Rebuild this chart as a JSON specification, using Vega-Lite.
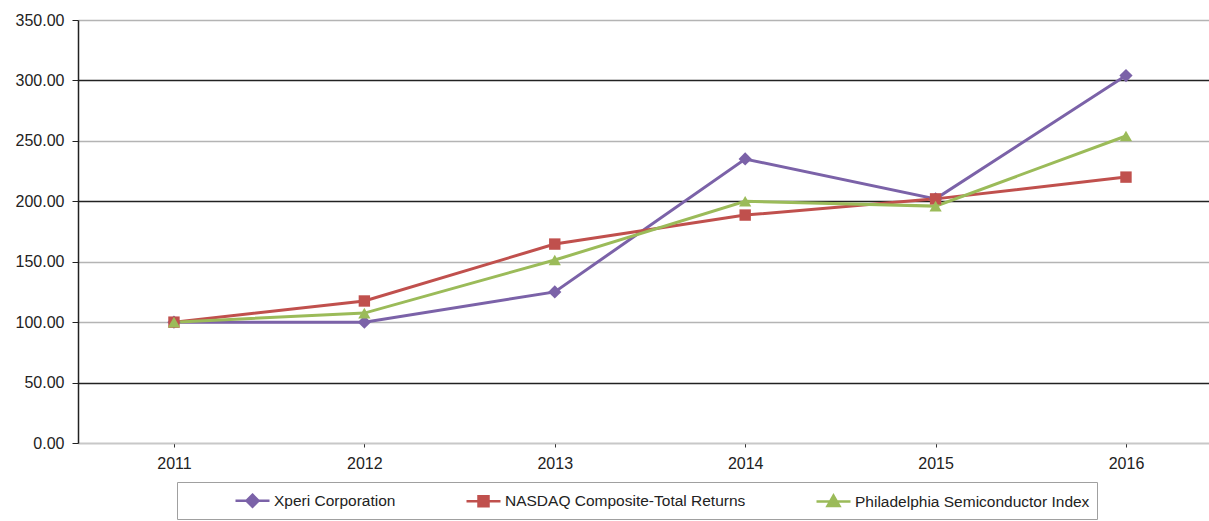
{
  "$schema": "https://vega.github.io/schema/vega-lite/v6.json",
  "width": 1131,
  "height": 423,
  "autosize": {"type": "none"},
  "padding": {"left": 78, "top": 20, "right": 0, "bottom": 78},
  "background": "white",
  "config": {"view": {"stroke": null}, "font": "Liberation Sans"},
  "data": {
    "values": [
      {"year": 2011, "series": "Xperi Corporation", "value": 100},
      {"year": 2012, "series": "Xperi Corporation", "value": 100},
      {"year": 2013, "series": "Xperi Corporation", "value": 125},
      {"year": 2014, "series": "Xperi Corporation", "value": 235},
      {"year": 2015, "series": "Xperi Corporation", "value": 202},
      {"year": 2016, "series": "Xperi Corporation", "value": 304},
      {"year": 2011, "series": "NASDAQ Composite-Total Returns", "value": 100},
      {"year": 2012, "series": "NASDAQ Composite-Total Returns", "value": 117.5},
      {"year": 2013, "series": "NASDAQ Composite-Total Returns", "value": 164.6},
      {"year": 2014, "series": "NASDAQ Composite-Total Returns", "value": 188.6},
      {"year": 2015, "series": "NASDAQ Composite-Total Returns", "value": 202},
      {"year": 2016, "series": "NASDAQ Composite-Total Returns", "value": 220},
      {"year": 2011, "series": "Philadelphia Semiconductor Index", "value": 100},
      {"year": 2012, "series": "Philadelphia Semiconductor Index", "value": 107.5},
      {"year": 2013, "series": "Philadelphia Semiconductor Index", "value": 151.4},
      {"year": 2014, "series": "Philadelphia Semiconductor Index", "value": 200},
      {"year": 2015, "series": "Philadelphia Semiconductor Index", "value": 196},
      {"year": 2016, "series": "Philadelphia Semiconductor Index", "value": 254}
    ]
  },
  "encoding": {
    "x": {
      "field": "year",
      "type": "quantitative",
      "scale": {"domain": [2010.496, 2016.436], "nice": false, "zero": false},
      "axis": {
        "values": [2011, 2012, 2013, 2014, 2015, 2016],
        "format": "d",
        "grid": false,
        "title": null,
        "domainColor": "#c8c8c8",
        "domainWidth": 1.5,
        "tickColor": "#333333",
        "tickSize": 4,
        "labelFontSize": 16,
        "labelColor": "#222222",
        "labelPadding": 8
      }
    },
    "y": {
      "field": "value",
      "type": "quantitative",
      "scale": {"domain": [0, 350], "nice": false},
      "axis": {
        "values": [0, 50, 100, 150, 200, 250, 300, 350],
        "format": ".2f",
        "title": null,
        "domainColor": "#222222",
        "domainWidth": 1.5,
        "tickColor": "#222222",
        "tickSize": 6,
        "labelFontSize": 16,
        "labelColor": "#222222",
        "labelPadding": 8,
        "gridColor": {
          "condition": {"test": "datum.value == 50 || datum.value == 200 || datum.value == 300", "value": "#222222"},
          "value": "#b4b4b4"
        },
        "gridWidth": 1.5
      }
    },
    "color": {
      "field": "series",
      "type": "nominal",
      "scale": {
        "domain": ["Xperi Corporation", "NASDAQ Composite-Total Returns", "Philadelphia Semiconductor Index"],
        "range": ["#7b62a8", "#c0504d", "#9bbb59"]
      },
      "legend": {
        "orient": "none",
        "legendX": 99,
        "legendY": 462,
        "direction": "horizontal",
        "title": null,
        "strokeColor": "#a0a0a0",
        "fillColor": "white",
        "padding": 7,
        "columnPadding": 19,
        "labelFontSize": 15.5,
        "labelColor": "#222222",
        "labelLimit": 400,
        "symbolSize": 400,
        "symbolOffset": 57,
        "labelOffset": 10,
        "symbolStrokeWidth": 2.5,
        "encode": {
          "symbols": {
            "update": {
              "shape": {"signal": "datum.value === 'Xperi Corporation' ? 'M-1.7,0H1.7M0,-0.6L0.6,0L0,0.6L-0.6,0Z' : datum.value === 'NASDAQ Composite-Total Returns' ? 'M-1.7,0H1.7M-0.5,-0.5H0.5V0.5H-0.5Z' : 'M-1.7,0H1.7M0,-0.6L0.6,0.45H-0.6Z'"},
              "fill": {"scale": "color", "field": "value"},
              "stroke": {"scale": "color", "field": "value"}
            }
          }
        }
      }
    }
  },
  "layer": [
    {"mark": {"type": "line", "strokeWidth": 3}},
    {
      "transform": [{"filter": "datum.series === 'Xperi Corporation'"}],
      "mark": {"type": "point", "shape": "diamond", "filled": true, "size": 175, "opacity": 1}
    },
    {
      "transform": [{"filter": "datum.series === 'NASDAQ Composite-Total Returns'"}],
      "mark": {"type": "point", "shape": "square", "filled": true, "size": 130, "opacity": 1}
    },
    {
      "transform": [{"filter": "datum.series === 'Philadelphia Semiconductor Index'"}],
      "mark": {"type": "point", "shape": "triangle-up", "filled": true, "size": 150, "opacity": 1}
    }
  ]
}
